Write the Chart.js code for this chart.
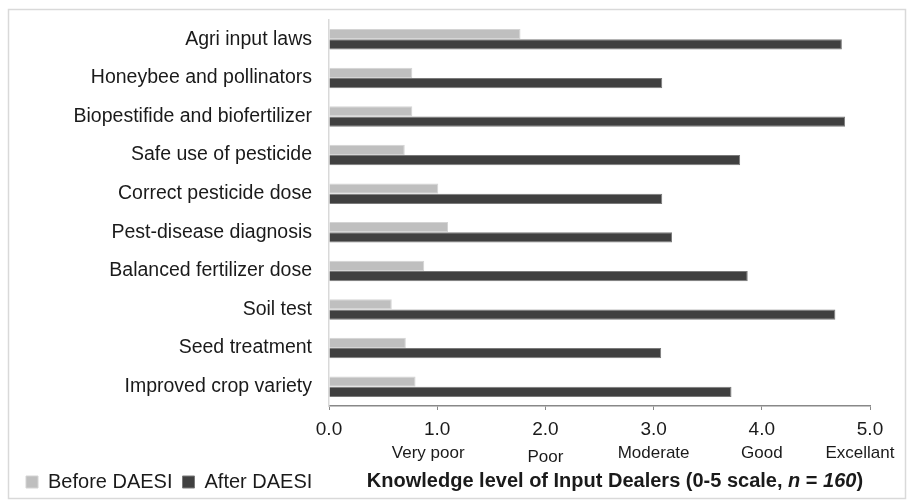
<!DOCTYPE html>
<html lang="en">
  <head>
    <meta charset="UTF-8" />
    <title>Knowledge level of Input Dealers</title>
    <script src="https://cdn.jsdelivr.net/npm/chart.js"></script>
    <style>
      body { margin: 0; background: #fff; }
      #wrap { width: 913px; height: 502px; position: relative; }
    </style>
  </head>
  <body>
    <div id="wrap"><canvas id="knowledge-chart"></canvas></div>
    <script>
      const categories = [
        "Agri input laws",
        "Honeybee and pollinators",
        "Biopestifide and biofertilizer",
        "Safe use of pesticide",
        "Correct pesticide dose",
        "Pest-disease diagnosis",
        "Balanced fertilizer dose",
        "Soil test",
        "Seed treatment",
        "Improved crop variety",
      ];
      const beforeDaesi = [1.77, 0.77, 0.77, 0.7, 1.01, 1.1, 0.88, 0.58, 0.71, 0.8];
      const afterDaesi = [4.74, 3.08, 4.77, 3.8, 3.08, 3.17, 3.87, 4.68, 3.07, 3.72];
      const scaleValues = [1, 2, 3, 4, 5];
      const scaleLabels = ["Very poor", "Poor", "Moderate", "Good", "Excellant"];

      Chart.defaults.font.family = "'Liberation Sans', Arial, sans-serif";
      Chart.defaults.color = "#1a1a1a";

      // cadre gris autour du graphique
      const frame = {
        id: "frame",
        beforeDraw(chart) {
          const c = chart.ctx;
          c.save();
          c.fillStyle = "#fff";
          c.fillRect(0, 0, chart.width, chart.height);
          c.strokeStyle = "#d9d9d9";
          c.lineWidth = 1.5;
          c.strokeRect(8.5, 9.5, 897, 489);
          c.restore();
        },
      };

      // libellés qualitatifs sous les ticks + titre de l'axe
      const extras = {
        id: "extras",
        afterDraw(chart) {
          const c = chart.ctx;
          const x = chart.scales.x;
          c.save();
          c.fillStyle = "#1a1a1a";
          c.font = "17px 'Liberation Sans', Arial, sans-serif";
          c.textAlign = "center";
          c.textBaseline = "middle";
          scaleValues.forEach((v, i) => {
            let dx = 0, dy = 0;
            if (i === 0) dx = -9;
            if (i === 1) dy = 4;
            if (i === 4) dx = -10;
            c.fillText(scaleLabels[i], x.getPixelForValue(v) + dx, 453 + dy);
          });

          const parts = [
            ["Knowledge level of Input Dealers (0-5 scale, ", ""],
            ["n", "italic "],
            [" = ", ""],
            ["160", "italic "],
            [")", ""],
          ];
          const fontFor = (st) => st + "bold 20px 'Liberation Sans', Arial, sans-serif";
          let total = 0;
          parts.forEach((p) => { c.font = fontFor(p[1]); total += c.measureText(p[0]).width; });
          let cx = 615 - total / 2;
          c.textAlign = "left";
          parts.forEach((p) => {
            c.font = fontFor(p[1]);
            c.fillText(p[0], cx, 481);
            cx += c.measureText(p[0]).width;
          });
          c.restore();
        },
      };

      const ctx = document.getElementById("knowledge-chart").getContext("2d");
      new Chart(ctx, {
        type: "bar",
        data: {
          labels: categories,
          datasets: [
            {
              label: "Before DAESI",
              data: beforeDaesi,
              backgroundColor: "#bfbfbf",
              borderColor: "#d4d4d4",
              borderWidth: 1,
            },
            {
              label: "After DAESI",
              data: afterDaesi,
              backgroundColor: "#404040",
              borderColor: "#7a7a7a",
              borderWidth: 1,
            },
          ],
        },
        options: {
          indexAxis: "y",
          responsive: true,
          maintainAspectRatio: false,
          animation: false,
          categoryPercentage: 0.53,
          barPercentage: 1.0,
          layout: {
            padding: { top: 20, left: 16, right: 43, bottom: 0 },
          },
          scales: {
            x: {
              min: 0,
              max: 5,
              ticks: {
                stepSize: 1,
                padding: 8,
                color: "#1a1a1a",
                font: { size: 19 },
                callback: (v) => Number(v).toFixed(1),
              },
              grid: { drawOnChartArea: false, tickLength: 4, color: "#888" },
              border: { color: "#888", width: 1.5 },
              afterFit(scale) { scale.height = 56; },
            },
            y: {
              ticks: { padding: 0, color: "#1a1a1a", font: { size: 19.5 } },
              // ticks invisibles pour l'espace entre libellés et axe
              grid: { drawOnChartArea: false, tickLength: 17, color: "rgba(0,0,0,0)" },
              border: { color: "#d9d9d9", width: 1.5 },
              afterFit(scale) { scale.width = 313; },
            },
          },
          plugins: {
            legend: {
              position: "bottom",
              align: "start",
              labels: {
                boxWidth: 12,
                boxHeight: 12,
                padding: 10,
                color: "#1a1a1a",
                font: { size: 20 },
              },
            },
            tooltip: { enabled: false },
          },
        },
        plugins: [frame, extras],
      });
    </script>
  </body>
</html>
